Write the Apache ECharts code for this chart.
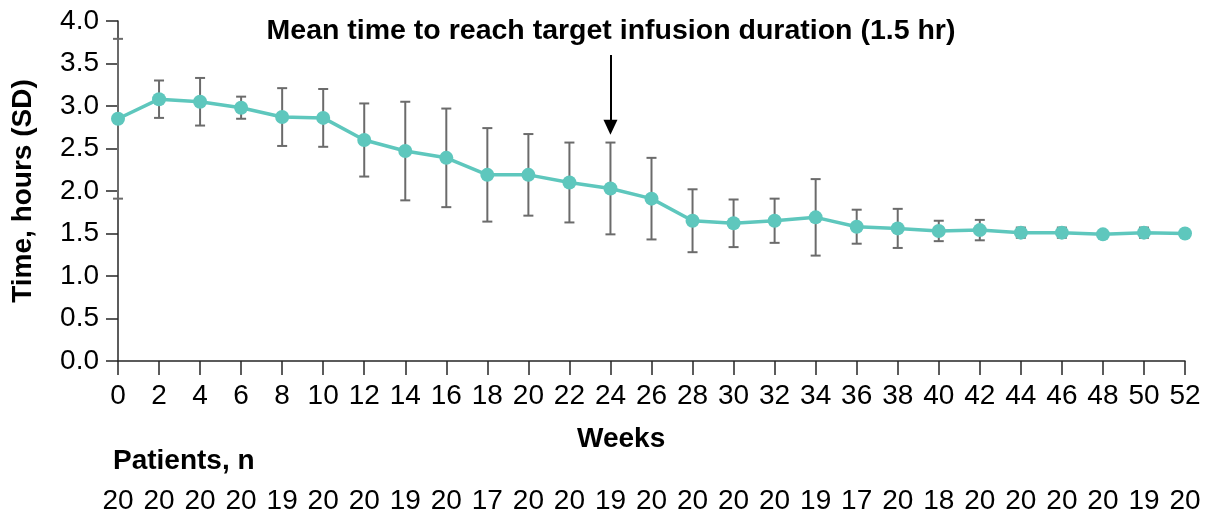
<!DOCTYPE html>
<html>
<head>
<meta charset="utf-8">
<script src="https://cdn.jsdelivr.net/npm/echarts@6/dist/echarts.min.js"></script>
<style>
  html, body { margin: 0; padding: 0; background: #fff; }
  #chart { width: 1207px; height: 518px; }
</style>
</head>
<body>
<div id="chart"></div>
<script>
// Infusion time by study week: mean with SD error bars
const weeks = [0, 2, 4, 6, 8, 10, 12, 14, 16, 18, 20, 22, 24, 26, 28, 30, 32, 34, 36, 38, 40, 42, 44, 46, 48, 50, 52];
const meanHours = [2.85, 3.08, 3.05, 2.98, 2.87, 2.86, 2.60, 2.47, 2.39, 2.19, 2.19, 2.10, 2.03, 1.91, 1.65, 1.62, 1.65, 1.69, 1.58, 1.56, 1.53, 1.54, 1.51, 1.51, 1.49, 1.51, 1.50];
const sdHours = [0.94, 0.22, 0.28, 0.13, 0.34, 0.34, 0.43, 0.58, 0.58, 0.55, 0.48, 0.47, 0.54, 0.48, 0.37, 0.28, 0.26, 0.45, 0.20, 0.23, 0.12, 0.12, 0.06, 0.06, 0.03, 0.06, 0.04];
const patients = [20, 20, 20, 20, 19, 20, 20, 19, 20, 17, 20, 20, 19, 20, 20, 20, 20, 19, 17, 20, 18, 20, 20, 20, 20, 19, 20];
const yTicks = [0, 0.5, 1.0, 1.5, 2.0, 2.5, 3.0, 3.5, 4.0];

const targetWeek = 24;
const titleText = 'Mean time to reach target infusion duration (1.5 hr)';

const FONT = "'Liberation Sans', Arial, Helvetica, sans-serif";
const TEAL = '#5ec7bd';
const BAR = '#6b6b6b';
const AXIS = '#262626';

const lineData = weeks.map((w, i) => [w, meanHours[i]]);
const errData = weeks.map((w, i) => [w, meanHours[i] - sdHours[i], meanHours[i] + sdHours[i]]);

const chart = echarts.init(document.getElementById('chart'), null, { renderer: 'canvas' });

chart.setOption({
  animation: false,
  backgroundColor: '#fff',
  textStyle: { fontFamily: FONT },
  grid: { left: 118, right: 22, top: 21, bottom: 157, containLabel: false, outerBoundsMode: 'none' },
  xAxis: [
    {
      type: 'value', min: 0, max: 52, interval: 2,
      axisLine: { show: true, lineStyle: { color: AXIS, width: 1.5 } },
      axisTick: { show: true, length: 14, lineStyle: { color: AXIS, width: 1.5 } },
      axisLabel: { fontSize: 28, color: '#000', margin: 21, fontFamily: FONT },
      splitLine: { show: false }
    },
    {
      type: 'value', min: 0, max: 52, interval: 2, position: 'bottom', offset: 114,
      axisLine: { show: false }, axisTick: { show: false }, splitLine: { show: false },
      axisLabel: {
        fontSize: 28, color: '#000', margin: 12, fontFamily: FONT,
        formatter: v => { const i = weeks.indexOf(v); return i >= 0 ? String(patients[i]) : ''; }
      }
    }
  ],
  yAxis: {
    type: 'value', min: yTicks[0], max: yTicks[yTicks.length - 1], interval: 0.5,
    name: 'Time, hours (SD)', nameLocation: 'middle', nameGap: 81, nameRotate: 90,
    nameTextStyle: { fontSize: 28, fontWeight: 'bold', color: '#000', fontFamily: FONT },
    axisLine: { show: true, lineStyle: { color: AXIS, width: 1.5 } },
    axisTick: { show: true, length: 12, lineStyle: { color: AXIS, width: 1.5 } },
    axisLabel: { fontSize: 28, color: '#000', margin: 19, fontFamily: FONT, formatter: v => v.toFixed(1) },
    splitLine: { show: false }
  },
  graphic: [
    {
      type: 'text', left: 577, top: 425,
      style: { text: 'Weeks', font: 'bold 28px ' + FONT, fill: '#000' }
    },
    {
      type: 'text', left: 113, top: 447,
      style: { text: 'Patients, n', font: 'bold 28px ' + FONT, fill: '#000' }
    },
    {
      type: 'text', x: 611, y: 17,
      style: { text: titleText, font: 'bold 28.5px ' + FONT, fill: '#000', align: 'center', verticalAlign: 'top' }
    }
  ],
  series: [
    {
      type: 'custom',
      name: 'SD',
      xAxisIndex: 0,
      clip: false,
      z: 2,
      data: errData,
      encode: { x: 0, y: [1, 2] },
      renderItem: (params, api) => {
        const x = api.value(0);
        const lo = api.coord([x, api.value(1)]);
        const hi = api.coord([x, api.value(2)]);
        const cap = 5;
        const style = { stroke: BAR, lineWidth: 2 };
        return {
          type: 'group',
          children: [
            { type: 'line', shape: { x1: lo[0], y1: lo[1], x2: hi[0], y2: hi[1] }, style },
            { type: 'line', shape: { x1: lo[0] - cap, y1: lo[1], x2: lo[0] + cap, y2: lo[1] }, style },
            { type: 'line', shape: { x1: hi[0] - cap, y1: hi[1], x2: hi[0] + cap, y2: hi[1] }, style }
          ]
        };
      }
    },
    {
      type: 'line',
      name: 'Mean',
      xAxisIndex: 0,
      z: 3,
      data: lineData,
      symbol: 'circle',
      symbolSize: 14,
      clip: false,
      lineStyle: { color: TEAL, width: 3.5 },
      itemStyle: { color: TEAL },
      markLine: {
        silent: true,
        symbol: ['none', 'triangle'],
        symbolSize: [14, 15],
        label: { show: false },
        lineStyle: { color: '#000', width: 2, type: 'solid' },
        data: [[{ coord: [targetWeek, 3.6] }, { coord: [targetWeek, 2.75] }]]
      }
    }
  ]
});
</script>
</body>
</html>
